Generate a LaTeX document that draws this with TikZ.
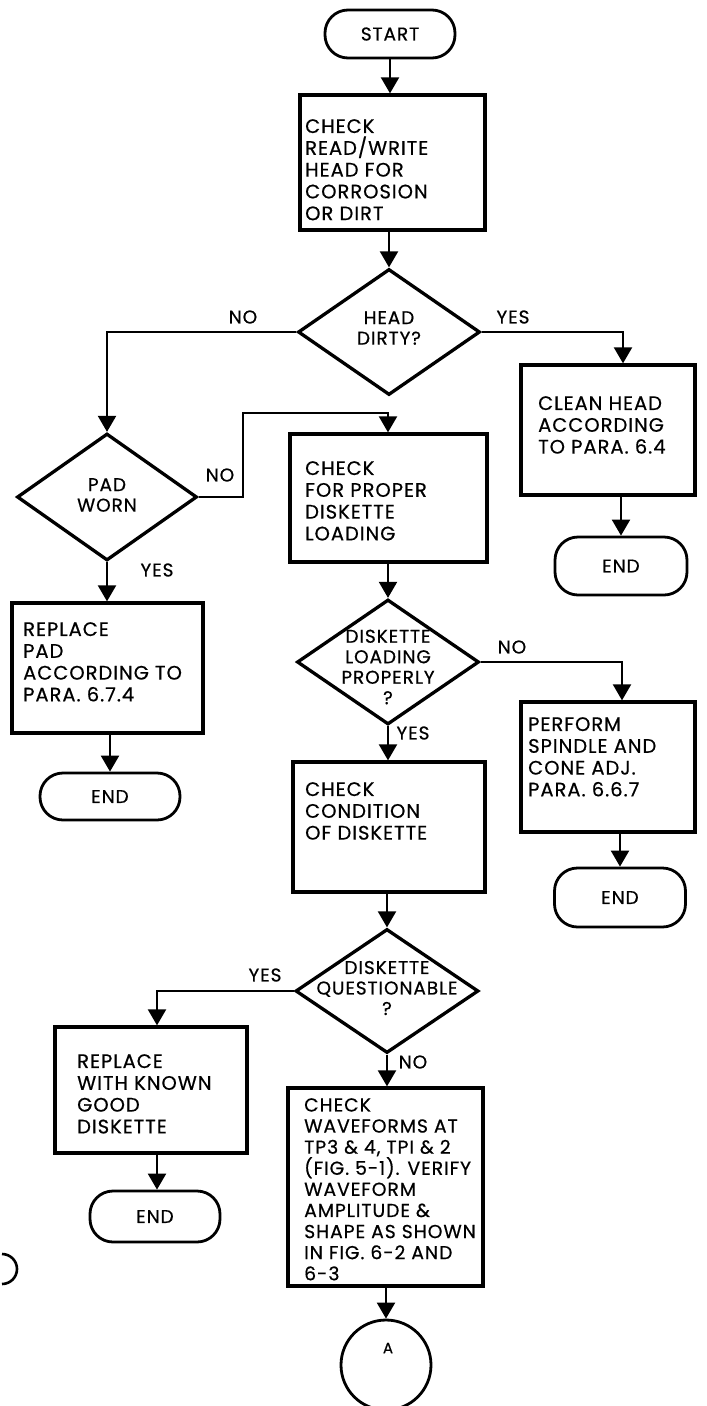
\documentclass[tikz,border=0pt]{standalone}
\usepackage{fontspec}
\setmainfont{Poppins}[LetterSpace=5,FakeBold=0.55]
\usetikzlibrary{shapes.geometric,arrows.meta}
\begin{document}
\begin{tikzpicture}[x=1pt,y=-1pt,
  procbox/.style={draw, line width=3.3pt, rectangle, inner sep=0pt},
  term/.style={draw, line width=2.8pt, rectangle, rounded corners=23pt, inner sep=0pt, font=\fontsize{18.5}{20}\selectfont},
  decide/.style={draw, line width=3.3pt, diamond, inner sep=0pt},
  txt/.style={align=left, inner sep=0pt, anchor=north west, font=\fontsize{19.5}{21.8}\selectfont},
  ctxt/.style={align=center, inner sep=0pt, font=\fontsize{18.5}{20.5}\selectfont},
  lbl/.style={inner sep=0pt, font=\fontsize{18.5}{20}\selectfont},
  conn/.style={line width=2.2pt, -{Triangle[width=18pt,length=16pt]}}
]
\useasboundingbox (0,0) rectangle (707,1406);

% START
\node[term, minimum width=130pt, minimum height=48pt] (start) at (390,34) {START};
% first check box
\node[procbox, minimum width=185pt, minimum height=135pt] (b1) at (392.5,162.5) {};
\node[txt] (b1t) at (305,119) {CHECK\\READ/WRITE\\HEAD FOR\\CORROSION\\OR DIRT};
% head dirty
\node[decide, minimum width=182pt, minimum height=126pt] (d1) at (389,332) {};
\node[ctxt] (d1t) at (389,328) {HEAD\\DIRTY?};
\node[lbl] (no1) at (243,317) {NO};
\node[lbl] (yes1) at (513,317) {YES};
% clean head
\node[procbox, minimum width=174pt, minimum height=130pt] (clean) at (608,430) {};
\node[txt] (cleant) at (538,396) {CLEAN HEAD\\ACCORDING\\TO PARA. 6.4};
\node[term, minimum width=132pt, minimum height=58pt] (end1) at (621,566) {END};
% pad worn
\node[decide, minimum width=180pt, minimum height=127pt] (d2) at (107,497) {};
\node[ctxt] (d2t) at (107,495) {PAD\\WORN};
\node[lbl] (no2) at (220,475) {NO};
\node[lbl] (yes2) at (157,570) {YES};
% check diskette loading
\node[procbox, minimum width=197pt, minimum height=128pt] (b2) at (388.5,498) {};
\node[txt] (b2t) at (305,461) {CHECK\\FOR PROPER\\DISKETTE\\LOADING};
% replace pad
\node[procbox, minimum width=191pt, minimum height=130pt] (rpad) at (107.5,668) {};
\node[txt] (rpadt) at (23,622) {REPLACE\\PAD\\ACCORDING TO\\PARA. 6.7.4};
\node[term, minimum width=140pt, minimum height=47pt] (end2) at (110,796.5) {END};
% diskette loading properly
\node[decide, minimum width=182pt, minimum height=125pt] (d3) at (388,662) {};
\node[ctxt] (d3t) at (388,667) {DISKETTE\\LOADING\\PROPERLY\\?};
\node[lbl] (no3) at (512,647) {NO};
\node[lbl] (yes3) at (413,733) {YES};
% perform spindle
\node[procbox, minimum width=174pt, minimum height=130pt] (perf) at (608,767) {};
\node[txt] (perft) at (528,717) {PERFORM\\SPINDLE AND\\CONE ADJ.\\PARA. 6.6.7};
\node[term, minimum width=131pt, minimum height=59pt] (end3) at (620,897.5) {END};
% check condition
\node[procbox, minimum width=192pt, minimum height=130pt] (b3) at (389,827) {};
\node[txt] (b3t) at (305,782) {CHECK\\CONDITION\\OF DISKETTE};
% diskette questionable
\node[decide, minimum width=183pt, minimum height=124pt] (d4) at (387,991) {};
\node[ctxt] (d4t) at (387,988) {DISKETTE\\QUESTIONABLE\\?};
\node[lbl] (yes4) at (265,975) {YES};
\node[lbl] (no4) at (413,1062) {NO};
% replace diskette
\node[procbox, minimum width=192pt, minimum height=126pt] (rdisk) at (151,1090) {};
\node[txt] (rdiskt) at (77,1054) {REPLACE\\WITH KNOWN\\GOOD\\DISKETTE};
\node[term, minimum width=130pt, minimum height=51pt] (end4) at (155,1216.5) {END};
% waveforms
\node[procbox, minimum width=195pt, minimum height=198pt] (wave) at (385.5,1187) {};
\node[txt, font=\fontsize{18.8}{21.1}\selectfont] (wavet) at (304,1098) {CHECK\\WAVEFORMS AT\\TP3 \& 4, TPI \& 2\\(FIG. 5-1). VERIFY\\WAVEFORM\\AMPLITUDE \&\\SHAPE AS SHOWN\\IN FIG. 6-2 AND\\6-3};
% connector A
\node[draw, line width=2.8pt, circle, minimum size=90pt, inner sep=0pt] (ca) at (386,1365) {};
\node[lbl, font=\fontsize{15}{17}\selectfont] (cat) at (388,1348) {A};
% stray arc at left edge
\draw[line width=2.6pt] (2,1254) arc[start angle=90, end angle=-90, radius=15pt];

% connectors
\draw[conn] (start.south) -- (b1.north -| start.south);
\draw[conn] (b1.south -| d1.north) -- (d1.north);
\draw[conn] (d1.west) -| (d2.north);
\draw[conn] (d1.east) -| (clean.north -| 623,0);
\draw[conn] (clean.south -| end1.north) -- (end1.north);
\draw[conn] (d2.east) -- (243,497) |- (388,413) -- (b2.north -| 388,0);
\draw[conn] (d2.south) -- (rpad.north -| d2.south);
\draw[conn] (rpad.south -| end2.north) -- (end2.north);
\draw[conn] (b2.south -| d3.north) -- (d3.north);
\draw[conn] (d3.east) -| (perf.north -| 622,0);
\draw[conn] (d3.south) -- (b3.north -| d3.south);
\draw[conn] (perf.south -| end3.north) -- (end3.north);
\draw[conn] (b3.south -| d4.north) -- (d4.north);
\draw[conn] (d4.west) -| (rdisk.north -| 157,0);
\draw[conn] (d4.south) -- (wave.north -| d4.south);
\draw[conn] (rdisk.south -| 157,0) -- (end4.north -| 157,0);
\draw[conn] (wave.south -| ca.north) -- (ca.north);
\end{tikzpicture}
\end{document}
